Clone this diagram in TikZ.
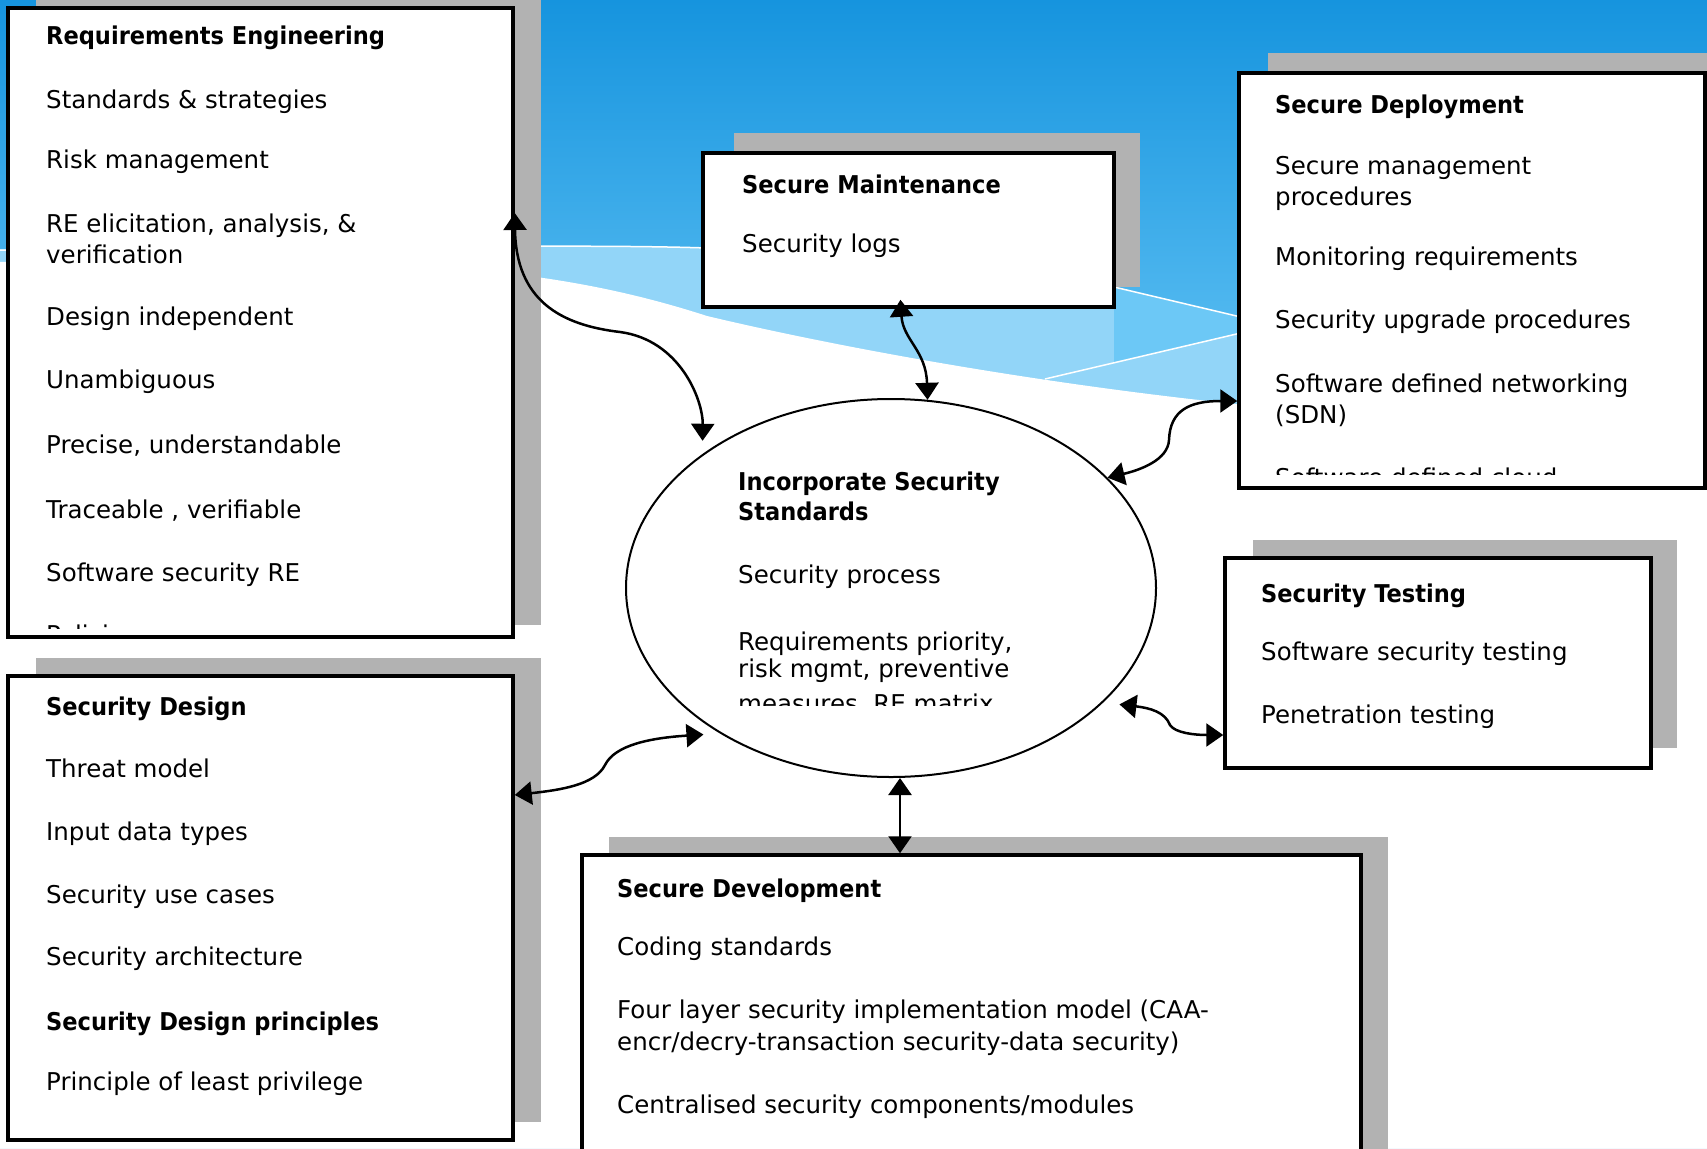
\documentclass[tikz,border=0pt]{standalone}
\usepackage{fontspec}
\setmainfont{DejaVu Sans}
\newfontfamily\hdfont{DejaVu Sans}[FakeStretch=0.92]
\usetikzlibrary{arrows.meta,shapes.geometric,calc}

\definecolor{skytop}{RGB}{22,148,222}
\definecolor{skylow}{RGB}{100,196,245}
\definecolor{bandlight}{RGB}{146,213,248}
\definecolor{bandmid}{RGB}{108,200,246}
\definecolor{shadowgray}{RGB}{178,178,178}

\begin{document}
\begin{tikzpicture}[x=1pt,y=-1pt,
  panel/.style={draw=black, line width=3.5pt, fill=white, rectangle, inner sep=0pt},
  shadowbox/.style={fill=shadowgray},
  item/.style={anchor=base west, inner sep=0pt, font=\fontsize{24.5}{29}\selectfont},
  head/.style={anchor=base west, inner sep=0pt, font=\hdfont\bfseries\fontsize{24.5}{29}\selectfont},
  conn/.style={line width=2.5pt, {Triangle[length=17pt,width=23pt]}-{Triangle[length=17pt,width=23pt]}},
  hilite/.style={draw=white, line width=1.5pt}
]
\useasboundingbox (0,0) rectangle (1707,1148);
\clip (0,0) rectangle (1707,1148);

% ---- background: sky gradient with a light swoosh and white lower part
\shade[top color=skytop, bottom color=skylow] (0,0) rectangle (1707,430);
\fill[bandlight] (0,249) .. controls (250,250) and (560,243) .. (707,248)
  .. controls (900,258) and (1040,276) .. (1114,287) -- (1245,318) -- (1707,400)
  -- (1707,1148) -- (0,1148) -- cycle;
\fill[bandmid] (1114,287) -- (1245,318) -- (1245,332) -- (1114,363) -- cycle;
\fill[white] (0,262) .. controls (380,256) and (540,262) .. (707,316)
  .. controls (850,350) and (1050,385) .. (1245,405) -- (1707,440)
  -- (1707,1148) -- (0,1148) -- cycle;
\draw[hilite] (0,250) .. controls (250,250) and (560,243) .. (707,248);
\draw[hilite] (1114,287) -- (1245,318);
\draw[hilite] (1045,379) -- (1245,332);

% ---- drop shadows
\fill[shadowbox] (36,-12) rectangle (541,625);
\fill[shadowbox] (36,658) rectangle (541,1122);
\fill[shadowbox] (734,133) rectangle (1140,287);
\fill[shadowbox] (1268,53) rectangle (1730,468);
\fill[shadowbox] (1253,540) rectangle (1677,748);
\fill[shadowbox] (609,837) rectangle (1388,1200);

% ---- panels
\node[panel, minimum width=505pt, minimum height=629pt] (re) at (260.5,322.5) {};
\node[panel, minimum width=505pt, minimum height=464pt] (sdsn) at (260.5,908) {};
\node[panel, minimum width=411pt, minimum height=154pt] (sm) at (908.5,230) {};
\node[panel, minimum width=466pt, minimum height=415pt] (sd) at (1472,280.5) {};
\node[panel, minimum width=426pt, minimum height=210pt] (st) at (1438,663) {};
\node[panel, minimum width=779pt, minimum height=330pt] (dev) at (971.5,1020) {};
\node[draw=black, line width=2pt, ellipse, inner sep=0pt,
      minimum width=530pt, minimum height=378pt] (ell) at (891,588) {};

% ---- Requirements Engineering
\node[head] (reT) at (46,45) {Requirements Engineering};
\node[item] (re1) at (46,108) {Standards \& strategies};
\node[item] (re2) at (46,168) {Risk management};
\node[item] (re3) at (46,232) {RE elicitation, analysis, \&};
\node[item] (re4) at (46,263) {verification};
\node[item] (re5) at (46,325) {Design independent};
\node[item] (re6) at (46,388) {Unambiguous};
\node[item] (re7) at (46,453) {Precise, understandable};
\node[item] (re8) at (46,518) {Traceable , verifiable};
\node[item] (re9) at (46,581) {Software security RE};
\begin{scope}
  \clip (40,600) rectangle (505,628);
  \node[item] (re10) at (46,643) {Policies};
\end{scope}

% ---- Security Design
\node[head] (sdsnT) at (46,715) {Security Design};
\node[item] (sdsn1) at (46,777) {Threat model};
\node[item] (sdsn2) at (46,840) {Input data types};
\node[item] (sdsn3) at (46,903) {Security use cases};
\node[item] (sdsn4) at (46,965) {Security architecture};
\node[head] (sdsn5) at (46,1030) {Security Design principles};
\node[item] (sdsn6) at (46,1090) {Principle of least privilege};

% ---- Secure Maintenance
\node[head] (smT) at (742,193) {Secure Maintenance};
\node[item] (sm1) at (742,252) {Security logs};

% ---- Secure Deployment
\node[head] (sdT) at (1275,113) {Secure Deployment};
\node[item] (sd1) at (1275,174) {Secure management};
\node[item] (sd2) at (1275,205) {procedures};
\node[item] (sd3) at (1275,265) {Monitoring requirements};
\node[item] (sd4) at (1275,328) {Security upgrade procedures};
\node[item] (sd5) at (1275,392) {Software defined networking};
\node[item] (sd6) at (1275,423) {(SDN)};
\begin{scope}
  \clip (1270,440) rectangle (1690,474);
  \node[item] (sd7) at (1275,486) {Software defined cloud};
\end{scope}

% ---- Security Testing
\node[head] (stT) at (1261,602) {Security Testing};
\node[item] (st1) at (1261,660) {Software security testing};
\node[item] (st2) at (1261,723) {Penetration testing};

% ---- Secure Development
\node[head] (devT) at (617,897) {Secure Development};
\node[item] (dev1) at (617,955) {Coding standards};
\node[item] (dev2) at (617,1018) {Four layer security implementation model (CAA-};
\node[item] (dev3) at (617,1050) {encr/decry-transaction security-data security)};
\node[item] (dev4) at (617,1113) {Centralised security components/modules};

% ---- central ellipse text
\node[head] (ellT1) at (738,490) {Incorporate Security};
\node[head] (ellT2) at (738,520) {Standards};
\node[item] (ell1) at (738,583) {Security process};
\node[item] (ell2) at (738,650) {Requirements priority,};
\node[item] (ell3) at (738,677) {risk mgmt, preventive};
\begin{scope}
  \clip (730,680) rectangle (1050,705);
  \node[item] (ell4) at (738,712) {measures, RE matrix};
\end{scope}

% ---- connectors
\draw[conn] (re.east |- 0,213) .. controls (516,300) and (560,325) .. (620,332)
  .. controls (680,340) and (703,400) .. ($(ell.center)!1.05!(ell.142)$);
\draw[conn, shorten <=-9pt] (901,0 |- sm.south) .. controls (903,340) and (926,350) .. (ell.79);
\draw[conn] (ell.27) .. controls (1140,470) and (1168,460) .. (1169,440)
  .. controls (1170,410) and (1190,401) .. (sd.west |- 0,401);
\draw[conn] ($(ell.center)!1.055!(ell.-27)$) .. controls (1150,708) and (1165,712) .. (1170,725)
  .. controls (1175,733) and (1195,735) .. (st.west |- 0,735);
\draw[conn] (sdsn.east |- 0,795) .. controls (560,790) and (595,785) .. (605,765)
  .. controls (615,745) and (650,738) .. ($(ell.center)!1.045!(ell.218)$);
\draw[conn] (900,0 |- ell.south) -- (900,0 |- dev.north);
\end{tikzpicture}
\end{document}
